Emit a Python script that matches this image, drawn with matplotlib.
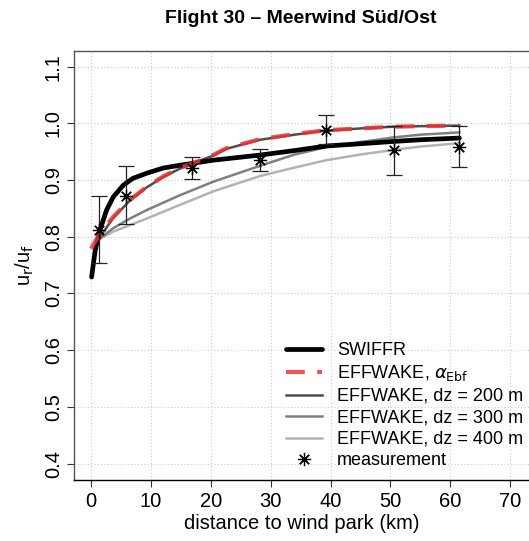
import matplotlib
matplotlib.use("Agg")
import matplotlib.pyplot as plt
import numpy as np

plt.rcParams['font.family'] = ['Liberation Sans', 'DejaVu Sans']

# SWIFFR model
swiffr_x = [0.1, 0.7, 1.5, 2.6, 3.7, 5.4, 7.0, 9.3, 12.0, 14.8, 20.4, 28.2, 34.0, 39.3, 45.0, 50.4, 55.0, 61.5]
swiffr_y = [0.729, 0.776, 0.812, 0.847, 0.870, 0.891, 0.903, 0.912, 0.921, 0.926, 0.935, 0.944, 0.952, 0.960, 0.964, 0.968, 0.971, 0.974]

# EFFWAKE alpha_Ebf
ebf_x = [0.0, 1.5, 3.7, 6.5, 9.3, 12.0, 14.8, 17.6, 20.4, 22.6, 28.2, 34.0, 39.3, 45.0, 50.4, 55.0, 61.5]
ebf_y = [0.779, 0.806, 0.835, 0.865, 0.888, 0.906, 0.921, 0.932, 0.944, 0.956, 0.972, 0.981, 0.988, 0.991, 0.994, 0.995, 0.996]

# EFFWAKE dz = 200 m
dz200_x = [1.2, 3.7, 6.5, 9.3, 12.0, 14.8, 17.6, 20.4, 22.6, 28.2, 34.0, 39.3, 45.0, 50.4, 55.0, 61.5]
dz200_y = [0.795, 0.833, 0.864, 0.887, 0.905, 0.920, 0.932, 0.943, 0.955, 0.971, 0.980, 0.987, 0.991, 0.994, 0.995, 0.996]

# EFFWAKE dz = 300 m
dz300_x = [1.2, 3.7, 6.5, 9.3, 14.8, 20.4, 28.2, 34.0, 39.3, 45.0, 50.4, 55.0, 61.5]
dz300_y = [0.794, 0.815, 0.832, 0.847, 0.873, 0.897, 0.925, 0.945, 0.958, 0.967, 0.975, 0.980, 0.984]

# EFFWAKE dz = 400 m
dz400_x = [1.2, 3.7, 9.3, 14.8, 20.4, 28.2, 34.0, 39.3, 45.0, 50.4, 55.0, 61.5]
dz400_y = [0.795, 0.809, 0.832, 0.856, 0.880, 0.907, 0.922, 0.935, 0.945, 0.953, 0.959, 0.965]

# measurements
meas_x = [1.4, 5.9, 16.9, 28.2, 39.3, 50.6, 61.5]
meas_y = [0.812, 0.872, 0.921, 0.935, 0.989, 0.953, 0.959]
meas_lo = [0.754, 0.822, 0.901, 0.916, 0.963, 0.909, 0.923]
meas_hi = [0.872, 0.925, 0.941, 0.954, 1.015, 0.995, 0.995]

xticks = [0, 10, 20, 30, 40, 50, 60, 70]
yticks = [0.4, 0.5, 0.6, 0.7, 0.8, 0.9, 1.0, 1.1]

fig = plt.figure(figsize=(5.29, 5.41), dpi=100)
ax = fig.add_axes([0.140, 0.1128, 0.862, 0.7934])

ax.set_xlim(-2.83, 73.3)
ax.set_ylim(0.371, 1.128)

for x in xticks:
    ax.axvline(x, color='#cccccc', lw=0.8, ls=(0, (1, 2)), zorder=0)
for y in yticks:
    ax.axhline(y, color='#cccccc', lw=0.8, ls=(0, (1, 2)), zorder=0)

ax.plot(dz400_x, dz400_y, color='#b3b3b3', lw=1.8, label='EFFWAKE, dz = 400 m', zorder=2)
ax.plot(dz300_x, dz300_y, color='#7f7f7f', lw=1.8, label='EFFWAKE, dz = 300 m', zorder=2)
ax.plot(dz200_x, dz200_y, color='#4d4d4d', lw=1.8, label='EFFWAKE, dz = 200 m', zorder=3)
ax.plot(swiffr_x, swiffr_y, color='black', lw=3.4, label='SWIFFR', zorder=4, solid_capstyle='round')
ax.plot(ebf_x, ebf_y, color='#ee3333', alpha=0.85, lw=3.0, ls=(0, (4.5, 3)),
        label=r'EFFWAKE, $\alpha_{\mathrm{Ebf}}$', zorder=5)

yerr = [np.array(meas_y) - np.array(meas_lo), np.array(meas_hi) - np.array(meas_y)]
ax.errorbar(meas_x, meas_y, yerr=yerr, fmt='none', ecolor='#222222', elinewidth=0.9,
            capsize=5.5, capthick=0.9, zorder=6)
ax.plot(meas_x, meas_y, ls='none', marker=(8, 2, 0), ms=9.5, mew=0.9, color='black',
        label='measurement', zorder=7)

ax.set_xticks(xticks)
ax.set_yticks(yticks)
ax.set_yticklabels([f"{v:.1f}" for v in yticks], rotation=90, va='center')
ax.tick_params(axis='both', labelsize=14.5, length=5, direction='out', color='#333333')
ax.tick_params(axis='y', pad=3)
ax.tick_params(axis='x', pad=4)

for s in ax.spines.values():
    s.set_color('#555555')
    s.set_linewidth(1.0)
ax.spines['bottom'].set_color('black')

ax.set_xlabel('distance to wind park (km)', fontsize=14.5, labelpad=2)
ax.set_ylabel(r'u$_\mathrm{r}$/u$_\mathrm{f}$', fontsize=14.5, labelpad=6)
fig.text(0.568, 0.966, 'Flight 30 \u2013 Meerwind S\u00fcd/Ost', ha='center', va='center',
         fontsize=14, fontweight='bold')

handles, labels = ax.get_legend_handles_labels()
order = ['SWIFFR', r'EFFWAKE, $\alpha_{\mathrm{Ebf}}$', 'EFFWAKE, dz = 200 m',
         'EFFWAKE, dz = 300 m', 'EFFWAKE, dz = 400 m', 'measurement']
hmap = dict(zip(labels, handles))
ax.legend([hmap[l] for l in order], order, loc='lower right', bbox_to_anchor=(1.012, -0.005),
          frameon=False, fontsize=13, handlelength=2.0, labelspacing=0.25,
          handletextpad=0.8, borderaxespad=0.3)

fig.savefig('out.png', dpi=100)
